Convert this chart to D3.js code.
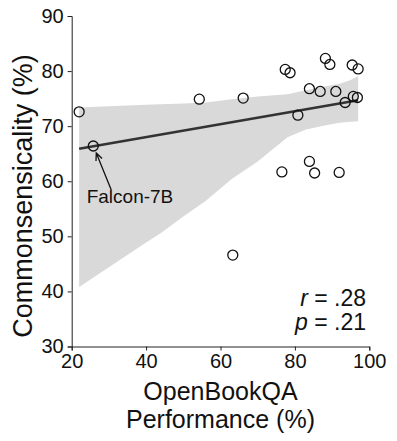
<!DOCTYPE html>
<html>
<head>
<meta charset="utf-8">
<script src="https://cdn.jsdelivr.net/npm/d3@7"></script>
<style>
  body { margin: 0; background: #fff; }
  svg { display: block; font-family: "Liberation Sans", Arial, Helvetica, sans-serif; }
  .axis path, .axis line { stroke: #222; stroke-width: 1; }
  .axis text { font-size: 20px; fill: #111; }
</style>
</head>
<body>
<svg width="397" height="441"></svg>
<script>
// OpenBookQA performance (x) vs commonsensicality (y), one entry per model
var openbook = [22.0, 25.8, 54.3, 66.1, 77.4, 78.7, 88.2, 89.4, 95.4, 97.0, 83.9,
                86.8, 91.0, 80.8, 93.5, 95.7, 96.8, 76.5, 83.9, 85.3, 91.9, 63.3];
var commonsense = [72.6, 66.4, 74.9, 75.1, 80.3, 79.7, 82.3, 81.2, 81.1, 80.4, 76.8,
                   76.3, 76.3, 72.0, 74.3, 75.4, 75.2, 61.7, 63.6, 61.5, 61.6, 46.6];
var labelled = 1; // Falcon-7B

// confidence band
var bandX     = [22, 30, 40, 44, 50, 56, 63, 70, 78, 83, 88, 92, 95, 97];
var bandLower = [40.8, 44.4, 48.9, 50.6, 53.6, 56.4, 60.4, 63.6, 68.0, 69.4, 70.1, 70.6, 70.8, 70.9];
var bandUpper = [73.4, 73.6, 73.9, 74.0, 74.1, 74.3, 74.9, 75.4, 75.8, 76.5, 77.2, 77.7, 78.4, 79.1];

var xTicks = [20, 40, 60, 80, 100];
var yTicks = [30, 40, 50, 60, 70, 80, 90];
var stats = ["r", ".28", "p", ".21"];

var svg = d3.select("svg");

var x = d3.scaleLinear().domain([20, 100]).range([71.7, 369.3]);
var y = d3.scaleLinear().domain([30, 90]).range([346.5, 16]);

//band
var band = bandX.map(function(d, i) { return { x: d, lo: bandLower[i], hi: bandUpper[i] }; });
svg.append("path")
  .datum(band)
  .attr("fill", "#d9d9d9")
  .attr("d", d3.area()
    .x(function(d) { return x(d.x); })
    .y0(function(d) { return y(d.lo); })
    .y1(function(d) { return y(d.hi); }));

//regression line (least squares)
var n = openbook.length;
var mx = d3.mean(openbook), my = d3.mean(commonsense);
var sxy = 0, sxx = 0;
for (var i = 0; i < n; i++) {
  sxy += (openbook[i] - mx) * (commonsense[i] - my);
  sxx += (openbook[i] - mx) * (openbook[i] - mx);
}
var slope = sxy / sxx, icpt = my - slope * mx;
var ext = d3.extent(openbook);
svg.append("line")
  .attr("x1", x(ext[0])).attr("y1", y(icpt + slope * ext[0]))
  .attr("x2", x(ext[1])).attr("y2", y(icpt + slope * ext[1]))
  .attr("stroke", "#333")
  .attr("stroke-width", 2.6);

//points
svg.selectAll(".pt")
  .data(openbook)
  .enter().append("circle")
    .attr("class", "pt")
    .attr("cx", function(d) { return x(d); })
    .attr("cy", function(d, i) { return y(commonsense[i]); })
    .attr("r", 5)
    .attr("fill", "none")
    .attr("stroke", "#111")
    .attr("stroke-width", 1.3);

//axes
svg.append("g")
  .attr("class", "axis")
  .attr("transform", "translate(0," + y(30) + ")")
  .call(d3.axisBottom(x).tickValues(xTicks).tickSizeOuter(0).tickSize(4).tickPadding(3));

svg.append("g")
  .attr("class", "axis")
  .attr("transform", "translate(" + x(20) + ",0)")
  .call(d3.axisLeft(y).tickValues(yTicks).tickSizeOuter(0).tickSize(4).tickPadding(4));

//annotation
var px = x(openbook[labelled]), py = y(commonsense[labelled]);
var hx = px + 3, hy = py + 7, tx = px + 18, ty = py + 44;
var ang = Math.atan2(ty - hy, tx - hx);
var wing = 8, spread = 0.42;
svg.append("path")
  .attr("d", "M" + tx + "," + ty + "L" + hx + "," + hy +
    "M" + (hx + wing * Math.cos(ang - spread)) + "," + (hy + wing * Math.sin(ang - spread)) +
    "L" + hx + "," + hy +
    "L" + (hx + wing * Math.cos(ang + spread)) + "," + (hy + wing * Math.sin(ang + spread)))
  .attr("fill", "none")
  .attr("stroke", "#111")
  .attr("stroke-width", 1.3);

svg.append("text")
  .attr("x", px - 6.6)
  .attr("y", py + 57)
  .attr("font-size", 19)
  .attr("fill", "#111")
  .text("Falcon-7B");

//stats
[0, 1].forEach(function(k) {
  var t = svg.append("text")
    .attr("text-anchor", "end")
    .attr("x", 366)
    .attr("y", 306 + k * 24)
    .attr("font-size", 23)
    .attr("fill", "#111");
  t.append("tspan").attr("font-style", "italic").text(stats[k * 2]);
  t.append("tspan").text(" = " + stats[k * 2 + 1]);
});

//axis titles
svg.append("text")
  .attr("text-anchor", "middle")
  .attr("x", 220.5)
  .attr("y", 400)
  .attr("font-size", 25)
  .attr("fill", "#111")
  .text("OpenBookQA");
svg.append("text")
  .attr("text-anchor", "middle")
  .attr("x", 220.5)
  .attr("y", 428)
  .attr("font-size", 25)
  .attr("fill", "#111")
  .text("Performance (%)");

svg.append("text")
  .attr("text-anchor", "middle")
  .attr("transform", "rotate(-90)")
  .attr("x", -196)
  .attr("y", 32)
  .attr("font-size", 27)
  .attr("fill", "#111")
  .text("Commonsensicality (%)");
</script>
</body>
</html>
